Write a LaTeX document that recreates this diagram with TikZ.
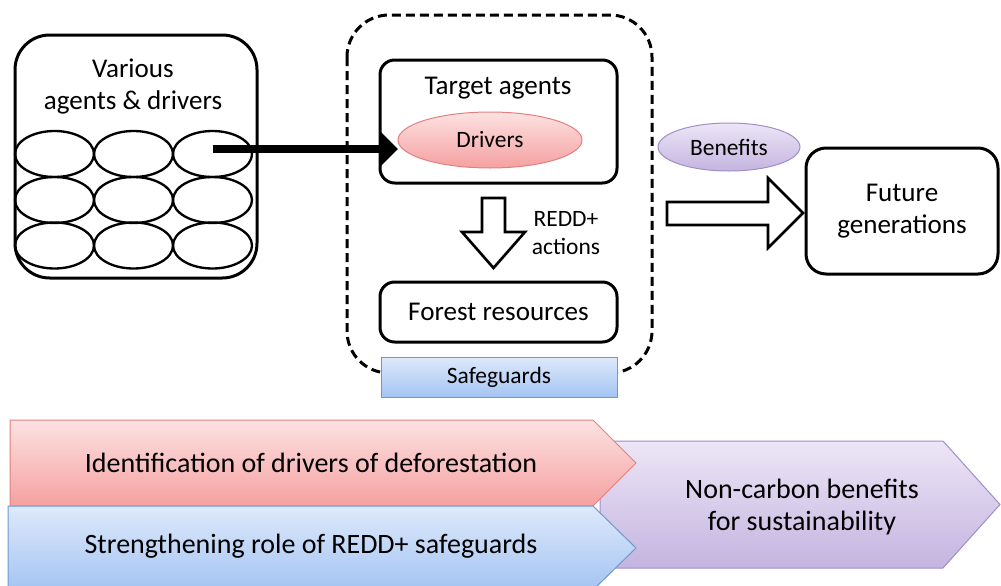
\documentclass[tikz,border=0pt]{standalone}
\usepackage{fontspec}
\setmainfont{Carlito}
\usetikzlibrary{shapes.geometric,arrows.meta}

\definecolor{pinktop}{RGB}{253,226,226}
\definecolor{pinkbot}{RGB}{245,160,160}
\definecolor{pinkline}{RGB}{226,128,128}
\definecolor{bluetop}{RGB}{222,233,251}
\definecolor{bluebot}{RGB}{164,196,242}
\definecolor{blueline}{RGB}{112,152,208}
\definecolor{purptop}{RGB}{237,230,246}
\definecolor{purpbot}{RGB}{196,180,224}
\definecolor{purpline}{RGB}{160,142,200}

\begin{document}
\begin{tikzpicture}[x=0.75pt,y=0.75pt,yscale=-1,xscale=1,
  box/.style={draw, line width=2.25pt, rounded corners=11pt, inner sep=0pt},
  cell/.style={draw, ellipse, line width=1.75pt, minimum width=59.25pt, minimum height=34.5pt, inner sep=0pt},
  bigtxt/.style={font=\fontsize{20.3}{24}\selectfont, align=center, inner sep=0.75pt},
  bandtxt/.style={font=\fontsize{21}{24}\selectfont, align=center, inner sep=0.75pt},
  smalltxt/.style={font=\fontsize{17.6}{21}\selectfont, align=center, inner sep=0.75pt},
  hollow/.style={draw, fill=white, line width=2pt, line join=miter}
]
\useasboundingbox (0,0) rectangle (1001,586);

%Shape: Rounded Rect (various agents)
\node [box, rounded corners=26pt, minimum width=181.5pt, minimum height=182.25pt] (agents) at (136,156.5) {};
% Text Node
\node [bigtxt] (agentstxt) at (133,87) {Various\\agents \& drivers};

%Shape: Ellipses (grid of agents)
\node [cell] (e11) at (54.5,154) {};
\node [cell] (e12) at (133.5,154) {};
\node [cell] (e13) at (212.5,154) {};
\node [cell] (e21) at (54.5,200) {};
\node [cell] (e22) at (133.5,200) {};
\node [cell] (e23) at (212.5,200) {};
\node [cell] (e31) at (54.5,245.5) {};
\node [cell] (e32) at (133.5,245.5) {};
\node [cell] (e33) at (212.5,245.5) {};

%Shape: Rounded Rect (dashed frame)
\draw [line width=2.25pt, dash pattern={on 6.75pt off 3.75pt}, rounded corners=31.5pt] (347,15) rectangle (652,373);

%Shape: Rounded Rect (target agents)
\node [box, minimum width=177.75pt, minimum height=92.25pt] (target) at (498.5,121.5) {};
% Text Node
\node [bigtxt] (targettxt) at (498,88) {Target agents};
%Shape: Ellipse (drivers)
\node [ellipse, draw=pinkline, line width=0.75pt, top color=pinktop, bottom color=pinkbot, minimum width=138pt, minimum height=42pt, inner sep=0pt, smalltxt] (drv) at (490,140) {Drivers};

%Straight Lines (agents to drivers)
\coordinate (tip) at (398,149);
\draw [line width=6pt, -{Triangle[length=13.5pt,width=26pt]}] (e13.center |- tip) -- (tip);

%Shape: Down Arrow (hollow)
\draw [hollow] (482,198) -- (505,198) -- (505,232) -- (525,232) -- (493.5,268) -- (462,232) -- (482,232) -- cycle;
% Text Node
\node [smalltxt] (redd) at (566,233) {REDD+\\actions};

%Shape: Rounded Rect (forest resources)
\node [box, minimum width=177.75pt, minimum height=45pt, bigtxt] (forest) at (498.5,312) {Forest resources};

%Shape: Rectangle (safeguards)
\node [draw=blueline, line width=0.75pt, top color=bluetop, bottom color=bluebot, minimum width=177pt, minimum height=30pt, inner sep=0pt, smalltxt] (safe) at (499,377) {Safeguards};

%Shape: Ellipse (benefits)
\node [ellipse, draw=purpline, line width=0.75pt, top color=purptop, bottom color=purpbot, minimum width=106.5pt, minimum height=36pt, inner sep=0pt, smalltxt] (benef) at (729,147) {Benefits};

%Shape: Right Arrow (hollow)
\draw [hollow] (667,202) -- (768,202) -- (768,178) -- (803,213) -- (768,248) -- (768,225) -- (667,225) -- cycle;

%Shape: Rounded Rect (future generations)
\node [box, rounded corners=15pt, minimum width=144pt, minimum height=94.5pt, bigtxt] (future) at (902,211) {Future\\generations};

%Shape: Pentagon (non-carbon benefits)
\draw [draw=purpline, line width=0.75pt, top color=purptop, bottom color=purpbot] (600,441) -- (943,441) -- (1000,504.5) -- (943,568) -- (600,568) -- cycle;
%Shape: Pentagon (drivers of deforestation)
\draw [draw=pinkline, line width=0.75pt, top color=pinktop, bottom color=pinkbot] (10,420) -- (593,420) -- (636,463) -- (593,506) -- (10,506) -- cycle;
%Shape: Pentagon (safeguards role)
\draw [draw=blueline, line width=0.75pt, top color=bluetop, bottom color=bluebot] (8,506) -- (593,506) -- (636,548) -- (593,590) -- (8,590) -- cycle;

% Text Node
\node [bandtxt] (ident) at (311,463) {Identification of drivers of deforestation};
% Text Node
\node [bandtxt] (streng) at (311,546) {Strengthening role of REDD+ safeguards};
% Text Node
\node [bandtxt] (noncarb) at (802,507) {Non-carbon benefits\\for sustainability};

\end{tikzpicture}
\end{document}
